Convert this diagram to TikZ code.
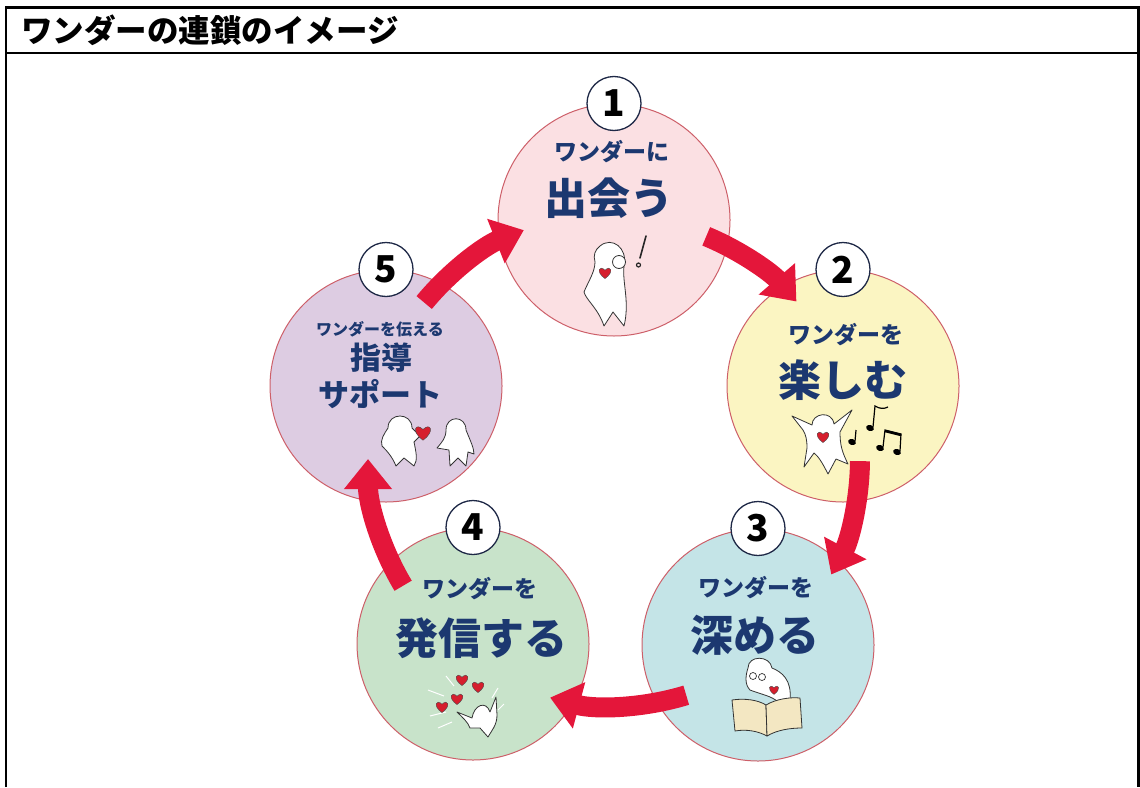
\documentclass[tikz,border=0pt]{standalone}
\usepackage{fontspec}
\setmainfont{Noto Sans CJK JP}
\usetikzlibrary{arrows.meta}
\definecolor{navy}{RGB}{28,56,112}
\definecolor{wred}{RGB}{228,22,58}
\definecolor{rim}{RGB}{205,95,105}
\definecolor{c1}{RGB}{251,224,227}
\definecolor{c2}{RGB}{251,245,194}
\definecolor{c3}{RGB}{196,228,231}
\definecolor{c4}{RGB}{200,227,202}
\definecolor{c5}{RGB}{221,204,226}
\definecolor{badgeline}{RGB}{30,40,70}
\definecolor{paper}{RGB}{243,231,194}
\definecolor{heartred}{RGB}{214,30,45}
\tikzset{
  pics/heart/.style={code={
    \fill[heartred,draw=black!70,line width=0.4pt] (0,4) .. controls (-7,-1) and (-4,-6) .. (0,-2)
      .. controls (4,-6) and (7,-1) .. (0,4) -- cycle;}},
  pics/note/.style={code={
    \fill[black] (0,0) ellipse[x radius=4, y radius=3];}}
}
\begin{document}
\begin{tikzpicture}[x=1pt,y=-1pt,
  stage/.style={circle,draw=rim,line width=1pt,minimum size=232pt,inner sep=0pt},
  badge/.style={circle,draw=badgeline,fill=white,line width=1.3pt,minimum size=54pt,
    inner sep=0pt,font=\fontsize{37}{37}\selectfont\bfseries},
  lead/.style={text=navy,font=\fontsize{23}{23}\selectfont\bfseries,inner sep=0pt},
  key/.style={text=navy,font=\fontsize{43}{43}\selectfont\bfseries,inner sep=0pt},
  flow/.style={draw=wred,line width=20pt,-{Triangle[length=30pt,width=46pt]}},
  fig/.style={fill=white,draw=black!80,line width=0.8pt,line join=round},
]
\useasboundingbox (0,0) rectangle (1140,787);

% frame and heading
\draw[line width=2.5pt] (6,787) -- (6,7.5) -- (1138.5,7.5) -- (1138.5,787);
\draw[line width=2.5pt] (6,53) -- (1138.5,53);
\node[anchor=west,inner sep=0pt,font=\fontsize{31.5}{31.5}\selectfont\bfseries] (title)
  at (21,30) {ワンダーの連鎖のイメージ};

% stage circles
\node[stage,fill=c1] (s1) at (614,220) {};
\node[stage,fill=c2] (s2) at (843,386) {};
\node[stage,fill=c3] (s3) at (758,645) {};
\node[stage,fill=c4] (s4) at (473,644) {};
\node[stage,fill=c5] (s5) at (386,386) {};

% arrows between the stages, along one ring
\coordinate (O) at (614,459);
\path (O) ++(-67.5:241) coordinate (f1);
\path (O) ++(0.5:246) coordinate (f2);
\path (O) ++(73:247) coordinate (f3);
\path (O) ++(149:246) coordinate (f4);
\path (O) ++(-140.5:246) coordinate (f5);
\draw[flow] (f1) arc[start angle=-67.5,end angle=-40.8,radius=241];
\draw[flow] (f2) arc[start angle=0.5,end angle=28,radius=246];
\draw[flow] (f3) arc[start angle=73,end angle=105,radius=247];
\draw[flow] (f4) arc[start angle=149,end angle=180,radius=246];
\draw[flow] (f5) arc[start angle=-140.5,end angle=-111.5,radius=246];

% number badges
\node[badge] (b1) at (s1.north) {1};
\node[badge] (b2) at (s2.north) {2};
\node[badge] (b3) at (s3.north) {3};
\node[badge] (b4) at (s4.north) {4};
\node[badge] (b5) at (s5.north) {5};

% stage texts
\node[lead] (t1a) at (612,152) {ワンダーに};
\node[key]  (t1b) at (609,198) {出会う};
\node[lead] (t2a) at (846,335) {ワンダーを};
\node[key]  (t2b) at (843,380) {楽しむ};
\node[lead] (t3a) at (756,588) {ワンダーを};
\node[key]  (t3b) at (755,635) {深める};
\node[lead] (t4a) at (480,589) {ワンダーを};
\node[key]  (t4b) at (481,638) {発信する};
\node[lead,font=\fontsize{16}{16}\selectfont\bfseries] (t5a) at (380,329) {ワンダーを伝える};
\node[key,font=\fontsize{31}{31}\selectfont\bfseries] (t5b) at (381,358) {指導};
\node[key,font=\fontsize{31}{31}\selectfont\bfseries] (t5c) at (380,394) {サポート};

% 1: a figure noticing something
\draw[fig] (600,246) .. controls (612,236) and (628,248) .. (624,266)
  .. controls (622,282) and (630,302) .. (624,326) -- (613,312) -- (604,326)
  .. controls (598,308) and (586,300) .. (584,292)
  .. controls (588,282) and (595,272) .. (595,262)
  .. controls (593,255) and (595,250) .. (600,246) -- cycle;
\draw[fig] (619,262) circle[radius=6.5];
\pic[scale=1.4] at (605,273) {heart};
\draw[black!85,line width=1.6pt,line cap=round] (646,236) -- (640,258);
\draw[black!85,line width=1.2pt] (638.5,265) circle[radius=2];

% 2: a dancing figure with notes
\draw[fig] (792,416) -- (812,425) .. controls (812,413) and (832,410) .. (834,424)
  -- (852,410) -- (840,432) .. controls (840,445) and (842,452) .. (848,464)
  -- (836,459) -- (828,474) .. controls (822,462) and (818,456) .. (814,453)
  -- (804,467) -- (807,448) .. controls (807,440) and (806,435) .. (803,430) -- cycle;
\pic[scale=1.4] at (823,437) {heart};
\pic[rotate=-20] at (852,442) {note};
\draw[line width=1.2pt] (855,441) -- (856,430);
\pic[rotate=-20] at (870,428) {note};
\draw[line width=1.2pt] (873,427) -- (875,406) .. controls (880,409) and (884,409) .. (888,407);
\pic[rotate=-20] at (880,448) {note};
\pic[rotate=-20] at (897,452) {note};
\draw[line width=1.2pt] (883,447) -- (885,430) -- (901,434) -- (900,451);
\draw[line width=2.5pt] (885,431) -- (901,435);

% 3: a figure reading a book
\draw[fig] (748,668) .. controls (748,655) and (770,655) .. (772,668)
  .. controls (782,672) and (792,680) .. (790,700) -- (778,702)
  .. controls (772,696) and (760,694) .. (750,690)
  .. controls (744,684) and (746,674) .. (748,668) -- cycle;
\draw[black!80,line width=0.7pt] (753,676) circle[radius=3.5] (762,677) circle[radius=3.5];
\pic[scale=1.1] at (774,690) {heart};
\draw[fill=paper,draw=black!80,line width=0.8pt,line join=round]
  (732,700) .. controls (745,698) and (758,700) .. (766,705) -- (767,736)
  .. controls (758,731) and (746,729) .. (735,731) -- cycle;
\draw[fill=paper,draw=black!80,line width=0.8pt,line join=round]
  (766,705) .. controls (776,699) and (790,697) .. (800,698) -- (802,728)
  .. controls (790,728) and (777,730) .. (767,736) -- cycle;

% 4: a figure sending hearts out
\foreach \a/\b/\c/\d in {428/690/444/696, 430/716/446/712, 438/728/452/722,
  446/676/454/686, 498/688/492/698, 504/704/498/710}
  \draw[white,line width=1pt] (\a,\b) -- (\c,\d);
\draw[fig] (457,712) -- (472,718) .. controls (474,705) and (486,700) .. (490,712)
  -- (496,697) -- (497,715) .. controls (497,725) and (492,730) .. (488,737)
  -- (480,728) -- (470,728) .. controls (468,722) and (462,717) .. (457,712) -- cycle;
\pic[scale=1.4] at (462,680) {heart};
\pic[scale=1.4] at (478,687) {heart};
\pic[scale=1.4] at (457,699) {heart};
\pic[scale=1.4] at (442,707) {heart};

% 5: one figure handing a heart to another
\draw[fig] (388,428) .. controls (388,412) and (412,412) .. (412,428)
  -- (420,436) -- (414,442) .. controls (416,452) and (418,460) .. (414,466)
  -- (404,458) -- (396,466) .. controls (392,456) and (386,450) .. (382,446)
  .. controls (380,440) and (384,434) .. (388,428) -- cycle;
\pic[scale=1.8] at (423,433) {heart};
\draw[fig] (446,430) .. controls (446,415) and (466,415) .. (466,430)
  .. controls (470,440) and (474,448) .. (474,454) -- (468,452) -- (466,466)
  -- (458,458) -- (450,466) -- (449,450) -- (437,448)
  .. controls (442,442) and (446,438) .. (446,430) -- cycle;
\end{tikzpicture}
\end{document}
